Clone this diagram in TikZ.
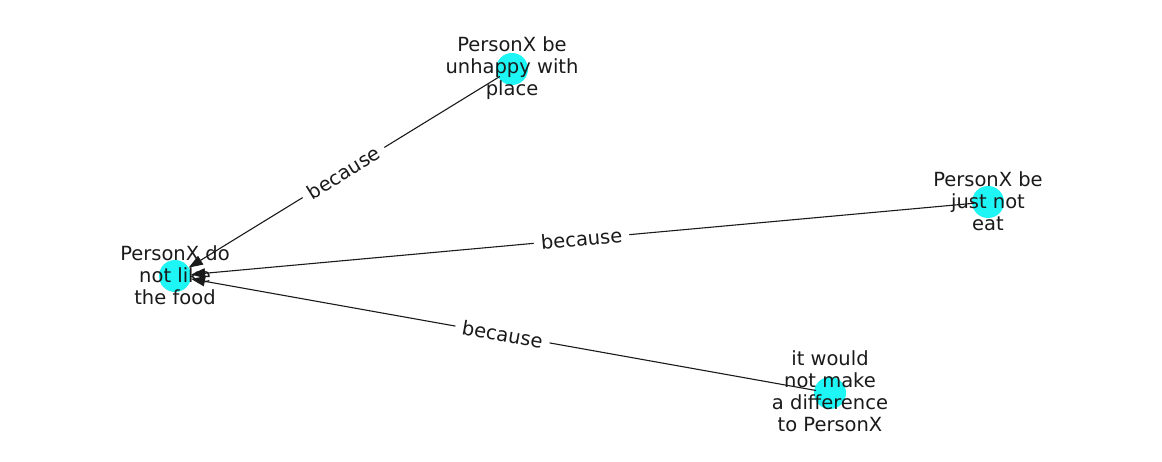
\documentclass[tikz,border=0pt]{standalone}
\usepackage{fontspec}
\setmainfont{DejaVu Sans}
\usetikzlibrary{arrows.meta}
\definecolor{nodecyan}{HTML}{1EF5F5}
\definecolor{txt}{HTML}{1A1A1A}
\tikzset{
  dot/.style={circle, fill=nodecyan, draw=none, minimum size=32pt, inner sep=0pt},
  lbl/.style={align=center, text=txt, font=\fontsize{19.5}{22}\selectfont, inner sep=0pt},
  edge/.style={draw=txt, line width=1.1pt, -{Triangle[length=14pt,width=10pt]}, shorten <=-2pt},
  elbl/.style={sloped, midway, fill=white, text=txt, font=\fontsize{19.5}{22}\selectfont, inner xsep=7pt, inner ysep=3pt}
}
\begin{document}
\begin{tikzpicture}[x=1pt,y=-1pt]
\useasboundingbox (0,0) rectangle (1162,462);
\node[dot] (t) at (175,276) {};
\node[dot] (a) at (512,69) {};
\node[dot] (b) at (988,202) {};
\node[dot] (c) at (830,393) {};
\draw[edge] (a) -- (t) node[elbl] (ea) {because};
\draw[edge] (b) -- (t) node[elbl] (eb) {because};
\draw[edge] (c) -- (t) node[elbl] (ec) {because};
\node[lbl] (lt) at (175,275) {PersonX do\\not like\\the food};
\node[lbl] (la) at (512,68) {PersonX be\\unhappy with\\place};
\node[lbl] (lb) at (988,201) {PersonX be\\just not\\eat};
\node[lbl] (lc) at (830,391) {it would\\not make\\a difference\\to PersonX};
\end{tikzpicture}
\end{document}
